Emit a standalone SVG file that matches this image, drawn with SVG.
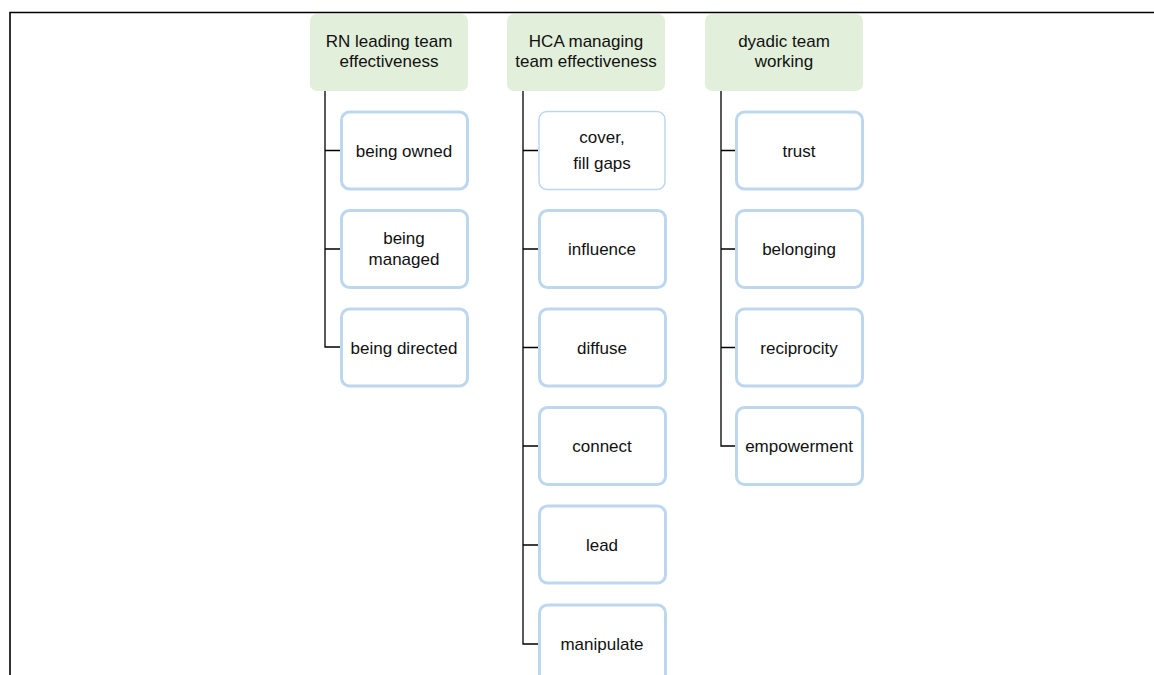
<svg xmlns="http://www.w3.org/2000/svg" width="1154" height="675" viewBox="0 0 1154 675">
  <style>
    .head { fill: #e2efda; stroke: none; }
    .item { fill: #ffffff; stroke: #bdd7ee; stroke-width: 3; }
    .item.thin { stroke-width: 1.5; }
    .lbl { font-family: "Liberation Sans", Arial, sans-serif; font-size: 17px; fill: #111111; text-anchor: middle; }
    .conn { stroke: #000000; stroke-width: 1.3; fill: none; }
    .frame { stroke: #000000; stroke-width: 1.6; fill: none; }
  </style>
  <rect width="1154" height="675" fill="#ffffff"/>

  <!-- outer frame (top and left edges visible) -->
  <path class="frame" d="M10 700 V12.5 H1160"/>

  <!-- connectors -->
  <g id="connectors">
    <path class="conn" d="M325 91 V347 H340 M325 150.5 H340 M325 249 H340"/>
    <path class="conn" d="M523 91 V644 H538 M523 150.5 H538 M523 249 H538 M523 347.5 H538 M523 446 H538 M523 545 H538"/>
    <path class="conn" d="M721 91 V446 H735 M721 150.5 H735 M721 249 H735 M721 347.5 H735"/>
  </g>

  <!-- column 1 -->
  <g id="rn-leading">
    <rect class="head" x="310" y="14" width="158" height="77" rx="7"/>
    <text class="lbl" x="389" y="47">RN leading team</text>
    <text class="lbl" x="389" y="67">effectiveness</text>
  </g>
  <g id="being-owned">
    <rect class="item" x="341.5" y="112" width="126" height="77" rx="8"/>
    <text class="lbl" x="404" y="156.5">being owned</text>
  </g>
  <g id="being-managed">
    <rect class="item" x="341.5" y="210.5" width="126" height="77" rx="8"/>
    <text class="lbl" x="404" y="244">being</text>
    <text class="lbl" x="404" y="265">managed</text>
  </g>
  <g id="being-directed">
    <rect class="item" x="341.5" y="309" width="126" height="77" rx="8"/>
    <text class="lbl" x="404" y="353.5">being directed</text>
  </g>

  <!-- column 2 -->
  <g id="hca-managing">
    <rect class="head" x="507" y="14" width="158" height="77" rx="7"/>
    <text class="lbl" x="586" y="47">HCA managing</text>
    <text class="lbl" x="586" y="67">team effectiveness</text>
  </g>
  <g id="cover-fill-gaps">
    <rect class="item thin" x="539" y="111.5" width="126" height="78" rx="8"/>
    <text class="lbl" x="602" y="142.5">cover,</text>
    <text class="lbl" x="602" y="169">fill gaps</text>
  </g>
  <g id="influence">
    <rect class="item" x="539.5" y="210.5" width="126" height="77" rx="8"/>
    <text class="lbl" x="602" y="255">influence</text>
  </g>
  <g id="diffuse">
    <rect class="item" x="539.5" y="309" width="126" height="77" rx="8"/>
    <text class="lbl" x="602" y="353.5">diffuse</text>
  </g>
  <g id="connect">
    <rect class="item" x="539.5" y="407.5" width="126" height="77" rx="8"/>
    <text class="lbl" x="602" y="452">connect</text>
  </g>
  <g id="lead">
    <rect class="item" x="539.5" y="506" width="126" height="77" rx="8"/>
    <text class="lbl" x="602" y="550.5">lead</text>
  </g>
  <g id="manipulate">
    <rect class="item" x="539.5" y="605" width="126" height="77" rx="8"/>
    <text class="lbl" x="602" y="649.5">manipulate</text>
  </g>

  <!-- column 3 -->
  <g id="dyadic-team">
    <rect class="head" x="705" y="14" width="158" height="77" rx="7"/>
    <text class="lbl" x="784" y="47">dyadic team</text>
    <text class="lbl" x="784" y="67">working</text>
  </g>
  <g id="trust">
    <rect class="item" x="736.5" y="112" width="126" height="77" rx="8"/>
    <text class="lbl" x="799" y="156.5">trust</text>
  </g>
  <g id="belonging">
    <rect class="item" x="736.5" y="210.5" width="126" height="77" rx="8"/>
    <text class="lbl" x="799" y="255">belonging</text>
  </g>
  <g id="reciprocity">
    <rect class="item" x="736.5" y="309" width="126" height="77" rx="8"/>
    <text class="lbl" x="799" y="353.5">reciprocity</text>
  </g>
  <g id="empowerment">
    <rect class="item" x="736.5" y="407.5" width="126" height="77" rx="8"/>
    <text class="lbl" x="799" y="452">empowerment</text>
  </g>
</svg>
